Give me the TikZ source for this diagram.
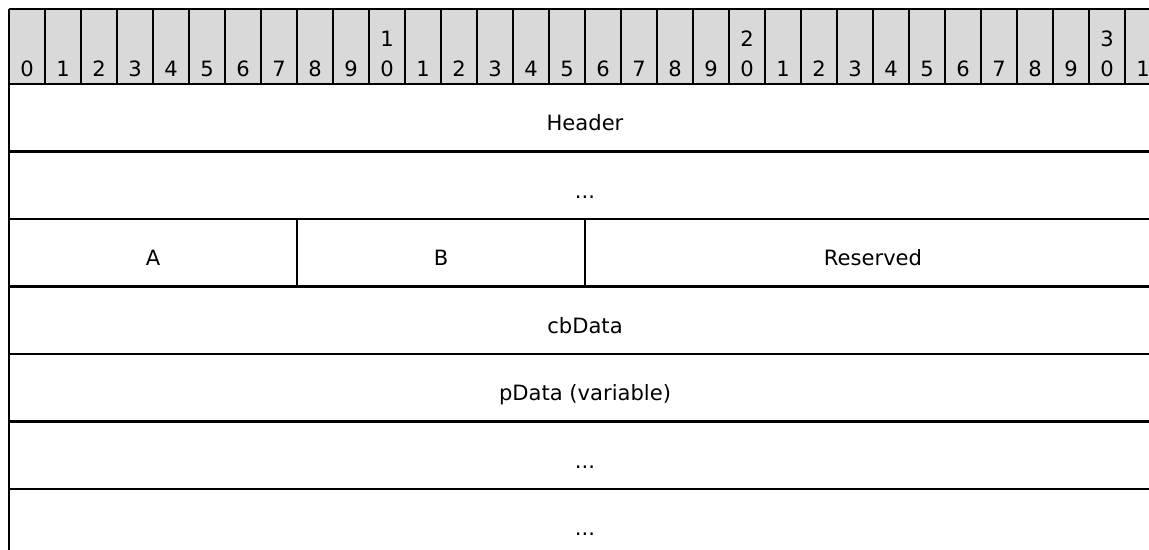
\documentclass[tikz,border=0pt]{standalone}
\usepackage{fontspec}
\setmainfont{DejaVu Sans}
\begin{document}
\begin{tikzpicture}[line width=1.4pt,
  bitno/.style={anchor=base,inner sep=0pt,font=\fontsize{12}{14}\selectfont},
  field/.style={anchor=base,inner sep=0pt,font=\fontsize{12}{14}\selectfont}]
\useasboundingbox (-0.18,0.18) rectangle (22.8,-10.82);
% bit ruler
\fill[black!15] (0,0) rectangle (22.8,-1.5);
\foreach \i in {0,...,31} {
  \pgfmathtruncatemacro\ones{mod(\i,10)}
  \pgfmathtruncatemacro\tens{div(\i,10)}
  \draw (\i*0.72,0) -- (\i*0.72,-1.5);
  \node[bitno] (b\i) at (\i*0.72+0.36,-1.36) {\ones};
  \ifnum\ones=0 \ifnum\i>0
    \node[bitno] (t\i) at (\i*0.72+0.36,-0.76) {\tens};
  \fi\fi
}
\draw (0,0) -- (22.8,0);
\draw (0,0) -- (0,-10.82);
\foreach \k in {0,...,6}
  \draw (0,-1.5-1.35*\k) -- (22.8,-1.5-1.35*\k);
\draw (8*0.72,-4.2) -- (8*0.72,-5.55);
\draw (16*0.72,-4.2) -- (16*0.72,-5.55);
% fields
\node[field] (hdr) at (11.52,-2.85+0.42) {Header};
\node[field] (dots1) at (11.52,-4.2+0.42) {...};
\node[field] (fa) at (2.88,-5.55+0.42) {A};
\node[field] (fb) at (8.64,-5.55+0.42) {B};
\node[field] (fres) at (17.28,-5.55+0.42) {Reserved};
\node[field] (cb) at (11.52,-6.9+0.42) {cbData};
\node[field] (pdata) at (11.52,-8.25+0.42) {pData (variable)};
\node[field] (dots2) at (11.52,-9.6+0.42) {...};
\node[field] (dots3) at (11.52,-10.95+0.42) {...};
\end{tikzpicture}
\end{document}
